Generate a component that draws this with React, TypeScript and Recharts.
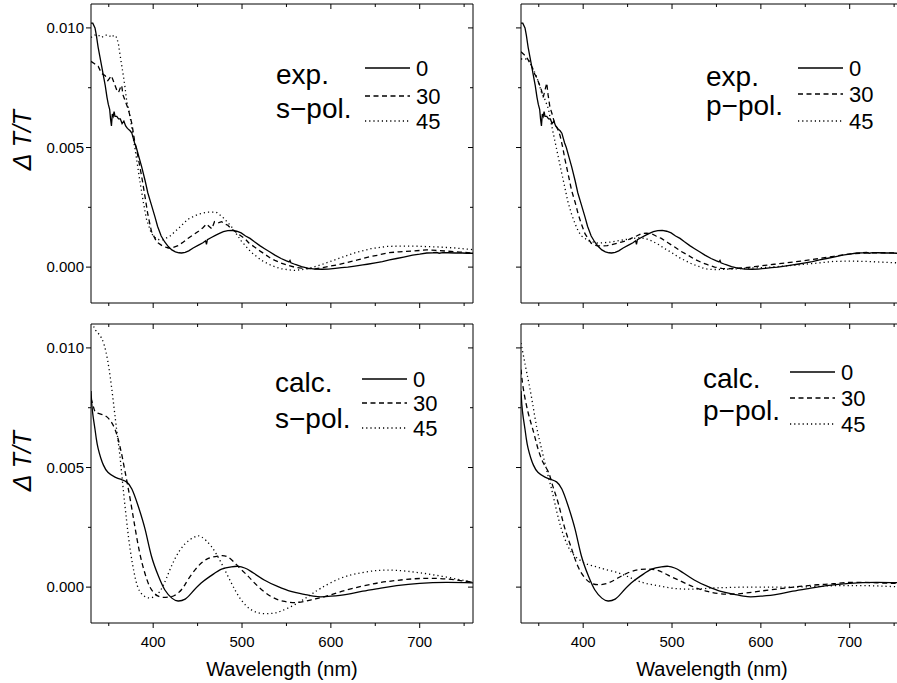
import { LineChart, Line, XAxis, YAxis } from "recharts"

type Pt = [number, number]

// axis ticks
const wlTicks = [350, 400, 450, 500, 550, 600, 650, 700, 750]
const dtTicks = [0, 0.0025, 0.005, 0.0075, 0.01]
const angles = ["0", "30", "45"]

// measured, normal incidence (same for s and p)
const expNormal: Pt[] = [
  [330, 0.0102], [332, 0.0102], [334.5, 0.01], [336, 0.0097], [338, 0.0092], [340, 0.0088], [342, 0.0084],
  [344, 0.008], [346, 0.0076], [348, 0.0071], [349.5, 0.0068], [351, 0.0066], [352, 0.0062], [353, 0.0059],
  [354, 0.0064], [355, 0.0063], [356, 0.0065], [357, 0.0063], [359, 0.0063], [361, 0.0062], [363, 0.0062],
  [365, 0.006], [367, 0.0061], [369, 0.0059], [371, 0.0058], [374, 0.0057], [376, 0.0056], [379, 0.0052],
  [381, 0.005], [384, 0.0046], [387, 0.0042], [391, 0.0036], [394, 0.0031], [398, 0.0026], [402, 0.0021],
  [405, 0.0017], [409, 0.0013], [413, 0.00105], [417, 0.00086], [421, 0.00072], [425, 0.00064], [429, 0.0006],
  [432, 0.00059], [436, 0.00062], [440, 0.00068], [445, 0.0008], [451, 0.00092], [456, 0.00102], [459, 0.0011],
  [460, 0.00095], [461, 0.00115], [466, 0.00125], [470, 0.00133], [474, 0.0014], [479, 0.00148], [484, 0.00153],
  [489, 0.00154], [494, 0.0015], [499, 0.00143], [504, 0.0013], [509, 0.0012], [514, 0.00106], [520, 0.0009],
  [525, 0.00078], [531, 0.00064], [537, 0.0005], [544, 0.00036], [550, 0.00026], [553, 0.00022], [554, 0.00028],
  [555, 0.00018], [560, 0.00011], [567, 0.00002], [574, -0.00004], [582, -0.00008], [590, -0.00009],
  [597, -0.00008], [605, -0.00005], [612, -0.00002], [619, 0], [627, 0.00004], [636, 0.00009], [641, 0.00012],
  [650, 0.00018], [658, 0.00023], [666, 0.0003], [674, 0.00036], [682, 0.00042], [692, 0.0005], [700, 0.00054],
  [708, 0.00059], [715, 0.0006], [719, 0.00061], [722, 0.00058], [726, 0.00061], [732, 0.0006], [740, 0.00059],
  [748, 0.00059], [753, 0.00058], [760, 0.00058],
]

const expS30: Pt[] = [
  [330, 0.0086], [334, 0.0085], [338, 0.0084], [342, 0.0081], [346, 0.008], [349, 0.0078], [351, 0.0079],
  [353, 0.008], [355, 0.0078], [357, 0.0076], [359, 0.0074], [361, 0.0073], [363, 0.0075], [364.5, 0.0076],
  [366, 0.0072], [368, 0.007], [370, 0.0068], [372, 0.0066], [374, 0.0063], [376, 0.006], [379, 0.0053],
  [383, 0.0046], [387, 0.0038], [391, 0.0029], [394, 0.0022], [398, 0.0015], [404, 0.00105], [411, 0.00087],
  [417, 0.0008], [421, 0.0008], [428, 0.0009], [434, 0.00105], [439, 0.0012], [445, 0.00135], [451, 0.0015],
  [456, 0.00165], [460, 0.0018], [463, 0.0017], [466, 0.0016], [469, 0.0019], [473, 0.00185], [477, 0.0019],
  [481, 0.0018], [484, 0.00175], [488, 0.0016], [492, 0.0015], [497, 0.00135], [503, 0.0012], [508, 0.001],
  [514, 0.00084], [520, 0.00068], [526, 0.00053], [531, 0.0004], [537, 0.00028], [544, 0.00017], [552, 0.00007],
  [559, 0], [567, -0.00004], [575, -0.00006], [582, -0.00007], [590, -0.00003], [597, 0.00003], [608, 0.0001],
  [619, 0.0002], [630, 0.0003], [642, 0.00042], [653, 0.0005], [664, 0.0006], [677, 0.00064], [692, 0.00067],
  [708, 0.00072], [720, 0.0007], [730, 0.00067], [745, 0.00063], [760, 0.00059],
]

const expS45: Pt[] = [
  [330, 0.0096], [334, 0.0097], [338, 0.0097], [342, 0.0096], [346, 0.0097], [350, 0.0097], [353, 0.0096],
  [356, 0.0097], [359, 0.0096], [361, 0.0093], [363, 0.0088], [366, 0.0081], [368, 0.0076], [370, 0.007],
  [374, 0.0063], [377.5, 0.0054], [381, 0.0046], [385, 0.0036], [389, 0.0027], [392.5, 0.002], [398, 0.0014],
  [404, 0.00116], [411, 0.00114], [419, 0.0013], [428, 0.0016], [439, 0.002], [450, 0.0022], [461, 0.0023],
  [471, 0.0023], [478, 0.0021], [488, 0.0017], [499, 0.0011], [510, 0.00063], [522, 0.00028], [533, 0.00007],
  [544, -0.00007], [559, -0.00014], [574, -0.00007], [589, 0.0001], [608, 0.00035], [627, 0.0006], [645, 0.00077],
  [664, 0.00087], [692, 0.00088], [722, 0.00084], [740, 0.0008], [760, 0.00073],
]

const expP30: Pt[] = [
  [330, 0.009], [333, 0.0089], [336, 0.0088], [339, 0.0086], [342, 0.0084], [345, 0.0081], [348, 0.0079],
  [351, 0.0076], [353, 0.0074], [355, 0.0071], [357, 0.0074], [359, 0.0077], [360.5, 0.0072], [362.5, 0.0067],
  [365, 0.0064], [368, 0.006], [371, 0.0058], [374, 0.0055], [377, 0.005], [379.5, 0.0045], [383, 0.0039],
  [387, 0.0032], [391, 0.0027], [394.5, 0.0022], [398, 0.0018], [402, 0.0014], [405.5, 0.0012], [409, 0.001],
  [415, 0.0009], [421, 0.00088], [427, 0.0009], [432, 0.00094], [438, 0.001], [443, 0.00105], [448, 0.0011],
  [454, 0.0012], [460, 0.0013], [465.5, 0.0014], [471, 0.00142], [477, 0.0014], [482, 0.0013], [488, 0.0012],
  [495, 0.00103], [503, 0.00084], [510, 0.00066], [518, 0.0005], [525, 0.00034], [533, 0.0002], [540, 0.0001],
  [548, 0], [556, -0.00005], [563, -0.00007], [572, -0.00005], [582, -0.00003], [593, 0.00002], [604, 0.00007],
  [615, 0.00012], [627, 0.00017], [645, 0.00025], [664, 0.00035], [682, 0.00045], [700, 0.00055], [720, 0.0006],
  [740, 0.0006], [760, 0.00059],
]

const expP45: Pt[] = [
  [330, 0.0087], [334, 0.0087], [338, 0.0087], [342, 0.0084], [346, 0.0081], [350, 0.0077], [353, 0.0073],
  [357, 0.007], [361, 0.0066], [364, 0.006], [368, 0.0053], [372, 0.0046], [376, 0.0039], [379.5, 0.0033],
  [383, 0.0027], [387, 0.0022], [391, 0.0018], [394.5, 0.0015], [398, 0.0013], [406, 0.0011], [417, 0.001],
  [432, 0.00105], [447, 0.00115], [462, 0.00123], [470, 0.0012], [477, 0.0011], [485, 0.00094], [492, 0.00077],
  [500, 0.0006], [507, 0.00042], [515, 0.00027], [522, 0.00014], [530, 0.00003], [537, -0.00007], [545, -0.0001],
  [552, -0.0001], [570, -0.00008], [589, -0.00004], [611, 0], [638, 0.00008], [664, 0.00017], [682, 0.00024],
  [700, 0.00025], [719, 0.00024], [740, 0.0002], [760, 0.00017],
]

// calculated, normal incidence (same for s and p)
const calcNormal: Pt[] = [
  [330, 0.0082], [331, 0.0076], [332.5, 0.0071], [334.5, 0.0066], [336, 0.0062], [338, 0.0058], [341, 0.0054],
  [344, 0.0051], [349, 0.0048], [357, 0.0046], [364, 0.0045], [370, 0.0044], [376, 0.0041], [383, 0.0034],
  [391, 0.0024], [398, 0.0013], [406, 0.00045], [413, -0.00011], [421, -0.00046], [428, -0.00058], [436, -0.0005],
  [443, -0.00025], [454, 0.00017], [466, 0.0005], [477, 0.00075], [488, 0.00085], [496, 0.00087], [503, 0.0008],
  [510, 0.00066], [525, 0.0003], [540, 0.00003], [555, -0.00018], [570, -0.0003], [585, -0.0004], [600, -0.00038],
  [618, -0.0003], [636, -0.00017], [655, -0.00005], [674, 0.00006], [700, 0.00016], [730, 0.0002], [760, 0.00018],
]

const calcS30: Pt[] = [
  [330, 0.0079], [333, 0.0075], [336, 0.0073], [344, 0.0072], [351, 0.007], [357, 0.0066], [362.5, 0.0059],
  [368, 0.0049], [374, 0.0037], [379.5, 0.0025], [385, 0.0014], [390.5, 0.0006], [396, 0.00003], [402, -0.00028],
  [409, -0.00042], [417, -0.00042], [424, -0.00035], [432, -0.0001], [439, 0.0003], [450.5, 0.00087],
  [462, 0.0012], [473, 0.0013], [484, 0.00126], [495.5, 0.00087], [507, 0.00045], [518, 0.00003], [533, -0.0004],
  [548, -0.0006], [563, -0.00064], [578, -0.00053], [593, -0.0004], [612, -0.00018], [634, 0.00003],
  [654, 0.00018], [674, 0.00028], [700, 0.00036], [730, 0.00034], [760, 0.0002],
]

const calcS45: Pt[] = [
  [333, 0.0109], [336, 0.0107], [342, 0.0104], [347.6, 0.0097], [353, 0.0084], [358.8, 0.0066], [362.5, 0.0055],
  [366, 0.0042], [370, 0.0028], [374, 0.0016], [379.4, 0.00045], [385, -0.00018], [392.5, -0.00043],
  [400, -0.00042], [407.5, -0.00018], [415, 0.00038], [424, 0.00115], [435.6, 0.0018], [446.8, 0.0021],
  [454.3, 0.0021], [465.5, 0.0017], [476.8, 0.001], [488, 0.00017], [499, -0.00053], [510.5, -0.00095],
  [521.7, -0.0011], [533, -0.0011], [544, -0.001], [559, -0.00074], [574, -0.0004], [589, -0.00004],
  [611.6, 0.00038], [634, 0.0006], [654, 0.0007], [674, 0.0007], [700, 0.0006], [730, 0.00042], [760, 0.0002],
]

const calcP30: Pt[] = [
  [330, 0.0091], [332.6, 0.0083], [338, 0.0073], [344, 0.0065], [349, 0.0058], [355, 0.0052], [361, 0.0048],
  [366, 0.0042], [372, 0.0035], [379, 0.0025], [387, 0.0016], [394, 0.00087], [402, 0.00038], [409, 0.00017],
  [417, 0.0001], [428, 0.00017], [439, 0.00038], [450.5, 0.0006], [462, 0.00073], [473, 0.00075], [484, 0.0007],
  [495.5, 0.0005], [510.5, 0.00024], [525.5, -0.00001], [540, -0.00018], [555, -0.00028], [574, -0.00028],
  [597, -0.00018], [627, -0.00004], [664, 0.0001], [682, 0.00014], [700, 0.0002], [730, 0.00018], [760, 0.00015],
]

const calcP45: Pt[] = [
  [330, 0.0102], [332.6, 0.0097], [336.3, 0.009], [342, 0.0079], [347.6, 0.0067], [353, 0.0058], [358.8, 0.0049],
  [364.4, 0.0041], [370, 0.0032], [375.7, 0.0024], [383, 0.0017], [390.6, 0.0013], [402, 0.001], [413, 0.00087],
  [424, 0.00075], [439, 0.0006], [454, 0.00038], [469, 0.00017], [484, 0.00006], [499, -0.00004],
  [514, -0.00008], [529, -0.00008], [544, -0.00004], [559, -0.00002], [582, 0], [608, 0], [634, 0],
  [664, 0.00003], [682, 0.00006], [720, 0.00006], [760, 0],
]

const FONT = '"Liberation Sans", Arial, sans-serif'
const DASHES = [undefined, "5 3.5", "1.2 3"]

const toRows = (pts: Pt[]) => pts.map(([x, y]) => ({ x, y }))
const majorX = (v: number) => v % 100 === 0
const majorY = (v: number) => Math.abs(v / 0.005 - Math.round(v / 0.005)) < 1e-6

const bottomTick = (labels: boolean) => (p: any) => {
  const major = majorX(p.payload.value)
  return (
    <g>
      <line x1={p.x} x2={p.x} y1={p.y} y2={p.y + (major ? 5 : 3)} stroke="#000" />
      {labels && major && (
        <text x={p.x} y={p.y + 24} textAnchor="middle" fontSize={15} fontFamily={FONT} fill="#000">
          {p.payload.value}
        </text>
      )}
    </g>
  )
}
const topTick = (p: any) => (
  <line x1={p.x} x2={p.x} y1={p.y} y2={p.y + (majorX(p.payload.value) ? 5 : 3)} stroke="#000" />
)
const leftTick = (labels: boolean) => (p: any) => {
  const major = majorY(p.payload.value)
  return (
    <g>
      <line x1={p.x - (major ? 5 : 3)} x2={p.x} y1={p.y} y2={p.y} stroke="#000" />
      {labels && major && (
        <text x={p.x - 7} y={p.y + 5} textAnchor="end" fontSize={15} fontFamily={FONT} fill="#000">
          {p.payload.value.toFixed(3)}
        </text>
      )}
    </g>
  )
}
const rightTick = (p: any) => (
  <line x1={p.x - (majorY(p.payload.value) ? 5 : 3)} x2={p.x} y1={p.y} y2={p.y} stroke="#000" />
)

interface PanelProps {
  left: number
  top: number
  series: Pt[][]
  smooth: boolean
  xLabels: boolean
  yLabels: boolean
}

function Panel({ left, top, series, smooth, xLabels, yLabels }: PanelProps) {
  const height = xLabels ? 370 : 310
  return (
    <div style={{ position: "absolute", left, top }}>
      <LineChart width={480} height={height} margin={{ top: 4, left: 0, right: 7, bottom: 0 }}>
        <XAxis
          type="number"
          dataKey="x"
          domain={[330, 760]}
          allowDataOverflow
          ticks={wlTicks}
          interval={0}
          height={height - 303}
          tickSize={0}
          tickMargin={0}
          tickLine={false}
          axisLine={{ stroke: "#000" }}
          tick={bottomTick(xLabels)}
        />
        <XAxis
          xAxisId="top"
          orientation="top"
          mirror
          type="number"
          dataKey="x"
          domain={[330, 760]}
          allowDataOverflow
          ticks={wlTicks}
          interval={0}
          tickSize={0}
          tickMargin={0}
          tickLine={false}
          axisLine={{ stroke: "#000" }}
          tick={topTick}
        />
        <YAxis
          type="number"
          domain={[-0.0015, 0.011]}
          allowDataOverflow
          ticks={dtTicks}
          interval={0}
          width={91}
          tickSize={0}
          tickMargin={0}
          tickLine={false}
          axisLine={{ stroke: "#000" }}
          tick={leftTick(yLabels)}
        />
        <YAxis
          yAxisId="right"
          orientation="right"
          mirror
          type="number"
          domain={[-0.0015, 0.011]}
          allowDataOverflow
          ticks={dtTicks}
          interval={0}
          tickSize={0}
          tickMargin={0}
          tickLine={false}
          axisLine={{ stroke: "#000" }}
          tick={rightTick}
        />
        {series.map((pts, i) => (
          <Line
            key={i}
            data={toRows(pts)}
            dataKey="y"
            type={smooth ? "natural" : "linear"}
            stroke="#000"
            strokeWidth={1.3}
            strokeDasharray={DASHES[i]}
            dot={false}
            activeDot={false}
            isAnimationActive={false}
          />
        ))}
      </LineChart>
    </div>
  )
}

interface LegendBox {
  tx: number
  ty: number[]
  words: string[]
  lx: number
  ly: number[]
}

const legends: LegendBox[] = [
  { tx: 276, ty: [84, 118], words: ["exp.", "s−pol."], lx: 365, ly: [68, 96, 121] },
  { tx: 706, ty: [86, 115], words: ["exp.", "p−pol."], lx: 798, ly: [68, 94, 121] },
  { tx: 275, ty: [392, 428], words: ["calc.", "s−pol."], lx: 362, ly: [379, 403, 428] },
  { tx: 703, ty: [388, 420], words: ["calc.", "p−pol."], lx: 790, ly: [372, 398, 424] },
]

export default function App() {
  return (
    <div
      style={{
        position: "absolute",
        left: 0,
        top: 0,
        width: 897,
        height: 683,
        overflow: "hidden",
        background: "#fff",
      }}
    >
      <Panel left={0} top={0} series={[expNormal, expS30, expS45]} smooth={false} xLabels={false} yLabels />
      <Panel left={430} top={0} series={[expNormal, expP30, expP45]} smooth={false} xLabels={false} yLabels={false} />
      <Panel left={0} top={320} series={[calcNormal, calcS30, calcS45]} smooth xLabels yLabels />
      <Panel left={430} top={320} series={[calcNormal, calcP30, calcP45]} smooth xLabels yLabels={false} />

      <svg
        width={897}
        height={683}
        style={{ position: "absolute", left: 0, top: 0, pointerEvents: "none" }}
        fontFamily={FONT}
      >
        {legends.map((lg, k) => (
          <g key={k}>
            {lg.words.map((w, i) => (
              <text key={w} x={lg.tx} y={lg.ty[i]} fontSize={28} fill="#000">
                {w}
              </text>
            ))}
            {angles.map((a, i) => (
              <g key={a}>
                <line
                  x1={lg.lx}
                  x2={lg.lx + 45}
                  y1={lg.ly[i]}
                  y2={lg.ly[i]}
                  stroke="#000"
                  strokeWidth={1.3}
                  strokeDasharray={DASHES[i]}
                />
                <text x={lg.lx + 51} y={lg.ly[i] + 8} fontSize={22} fill="#000">
                  {a}
                </text>
              </g>
            ))}
          </g>
        ))}
        <text x={282} y={676} textAnchor="middle" fontSize={20} fill="#000">
          Wavelength (nm)
        </text>
        <text x={712} y={676} textAnchor="middle" fontSize={20} fill="#000">
          Wavelength (nm)
        </text>
        <text transform="translate(31,140) rotate(-90)" textAnchor="middle" fontSize={25} fontStyle="italic" fill="#000">
          Δ T/T
        </text>
        <text transform="translate(31,461) rotate(-90)" textAnchor="middle" fontSize={25} fontStyle="italic" fill="#000">
          Δ T/T
        </text>
      </svg>
    </div>
  )
}
